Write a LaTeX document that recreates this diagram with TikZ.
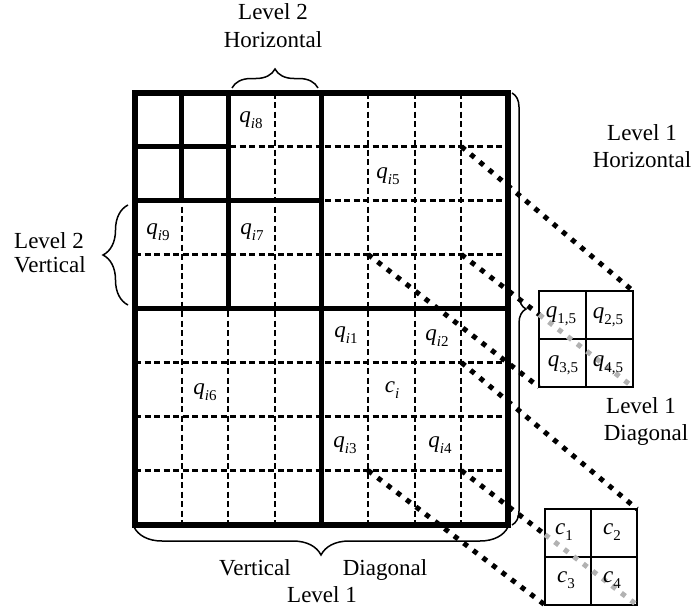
\documentclass[tikz,border=0pt]{standalone}
\usepackage{fontspec}
\setmainfont{Liberation Serif}
\usetikzlibrary{decorations.pathreplacing,calc}
\newcommand{\qsub}[2]{\textit{#1}\raisebox{-5.5pt}{\fontsize{15}{15}\selectfont #2}}
\begin{document}
\begin{tikzpicture}[x=1pt,y=1pt,
  every node/.style={inner sep=0pt, font=\fontsize{23}{28}\selectfont},
  qlab/.style={font=\fontsize{23}{26}\selectfont},
  gridthick/.style={line width=5pt},
  border/.style={line width=6pt},
  dashln/.style={line width=2.1pt, dash pattern=on 6pt off 3.5pt},
  dotln/.style={line width=5pt, dash pattern=on 5pt off 7pt},
  dotgray/.style={dotln, draw=gray!60},
  boxln/.style={line width=2pt},
  bracel/.style={decorate, decoration={brace, amplitude=#1}, line width=1.5pt}]
\useasboundingbox (0,0) rectangle (692,-610);

% grid points
\foreach \i in {0,...,8} {
  \foreach \j in {0,...,8} {
    \coordinate (g\i-\j) at ({135+\i*46.625},{-92.5-\j*54});
  }
}

% dashed grid
\foreach \k in {1,2,3,5,6,7} {
  \draw[dashln] (g\k-0) -- (g\k-8);
  \draw[dashln] (g0-\k) -- (g8-\k);
}

% thick lines
\draw[gridthick] (g4-0) -- (g4-8);
\draw[gridthick] (g0-4) -- (g8-4);
\draw[gridthick] (g2-0) -- (g2-4);
\draw[gridthick] (g0-2) -- (g4-2);
\draw[gridthick] (g1-0) -- (g1-2);
\draw[gridthick] (g0-1) -- (g2-1);
\draw[border] (g0-0) rectangle (g8-8);

% box 1
\coordinate (b1tl) at (539,-291);
\coordinate (b1tr) at (633,-291);
\coordinate (b1bl) at (539,-387);
\coordinate (b1br) at (633,-387);
\coordinate (b1t) at (586,-291);
\coordinate (b1b) at (586,-387);
\coordinate (b1l) at (539,-339);
\coordinate (b1r) at (633,-339);
\draw[boxln] (b1tl) rectangle (b1br);
\draw[boxln] (b1t) -- (b1b);
\draw[boxln] (b1l) -- (b1r);

% box 2
\coordinate (b2tl) at (545,-509);
\coordinate (b2tr) at (637,-509);
\coordinate (b2bl) at (545,-605);
\coordinate (b2br) at (637,-605);
\coordinate (b2t) at (591,-509);
\coordinate (b2b) at (591,-605);
\coordinate (b2l) at (545,-557);
\coordinate (b2r) at (637,-557);
\draw[boxln] (b2tl) rectangle (b2br);
\draw[boxln] (b2t) -- (b2b);
\draw[boxln] (b2l) -- (b2r);

% dotted projection lines
\draw[dotln] (g7-1) -- (b1tr);
\coordinate (p1) at ($(g7-3)!0.4535!(b1br)$);
\draw[dotln] (g7-3) -- (p1);
\draw[dotgray] (p1) -- (b1br);
\draw[dotln] (g5-3) -- (b1bl);
\draw[dotln] (g7-5) -- (b2tr);
\coordinate (p2) at ($(g7-7)!0.477!(b2br)$);
\draw[dotln] (g7-7) -- (p2);
\draw[dotgray] (p2) -- (b2br);
\draw[dotln] (g5-7) -- (b2bl);

% braces
\coordinate (bt1) at (232,-88);
\coordinate (bt2) at (318,-88);
\draw[bracel=19pt] (bt1) -- (bt2);
\coordinate (br1) at (512,-93);
\coordinate (br2) at (512,-525);
\draw[bracel=14pt] (br1) -- (br2);
\coordinate (bb1) at (508,-527);
\coordinate (bb2) at (134,-527);
\draw[bracel=28pt] (bb1) -- (bb2);
\coordinate (bl1) at (128,-305);
\coordinate (bl2) at (128,-205);
\draw[bracel=25pt] (bl1) -- (bl2);

% grid labels
\node[qlab] (q8) at (251,-120) {\qsub{q}{\textit{i}8}};
\node[qlab] (q9) at (158,-232) {\qsub{q}{\textit{i}9}};
\node[qlab] (q7) at (252,-232) {\qsub{q}{\textit{i}7}};
\node[qlab] (q5) at (388,-176) {\qsub{q}{\textit{i}5}};
\node[qlab] (q1) at (346,-335) {\qsub{q}{\textit{i}1}};
\node[qlab] (q2) at (437,-338) {\qsub{q}{\textit{i}2}};
\node[qlab] (q6) at (205,-392) {\qsub{q}{\textit{i}6}};
\node[qlab] (ci) at (392,-390) {\qsub{c}{\textit{i}}};
\node[qlab] (q3) at (345,-445) {\qsub{q}{\textit{i}3}};
\node[qlab] (q4) at (440,-445) {\qsub{q}{\textit{i}4}};

% box labels
\node[qlab] (q15) at (561,-316) {\qsub{q}{1,5}};
\node[qlab] (q25) at (608,-317) {\qsub{q}{2,5}};
\node[qlab] (q35) at (563,-365) {\qsub{q}{3,5}};
\node[qlab] (q45) at (608,-365) {\qsub{q}{4,5}};
\node[qlab] (c1) at (564,-532) {\qsub{c}{1}};
\node[qlab] (c2) at (612,-532) {\qsub{c}{2}};
\node[qlab] (c3) at (566,-580) {\qsub{c}{3}};
\node[qlab] (c4) at (612,-580) {\qsub{c}{4}};

% level labels
\node[anchor=base] (t1) at (273,-20) {Level 2};
\node[anchor=base] (t2) at (273,-48) {Horizontal};
\node[anchor=base] (l1) at (49,-248) {Level 2};
\node[anchor=base] (l2) at (50,-272) {Vertical};
\node[anchor=base] (r1) at (642,-140) {Level 1};
\node[anchor=base] (r2) at (642,-167) {Horizontal};
\node[anchor=base] (r3) at (641,-413) {Level 1};
\node[anchor=base] (r4) at (646,-440) {Diagonal};
\node[anchor=base] (d1) at (255,-575) {Vertical};
\node[anchor=base] (d2) at (385,-575) {Diagonal};
\node[anchor=base] (d3) at (322,-602) {Level 1};
\end{tikzpicture}
\end{document}
